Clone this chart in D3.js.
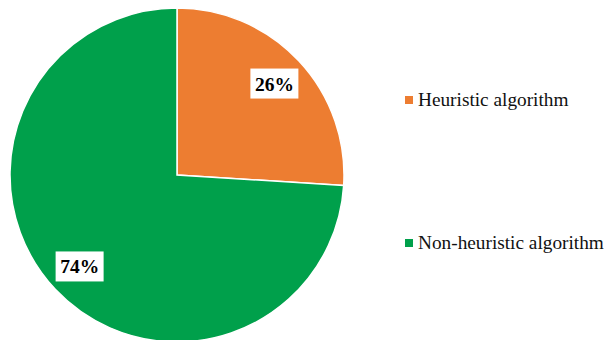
<!DOCTYPE html>
<html><head><meta charset="utf-8">
<script src="https://cdn.jsdelivr.net/npm/d3@7"></script>
<style>body{margin:0;background:#fff}svg{display:block}text{font-family:"Liberation Serif","Times New Roman",Times,serif}</style>
</head><body>
<svg id="c" width="614" height="340"></svg>
<script>
const categories = ["Heuristic algorithm", "Non-heuristic algorithm"];
const values = [26, 74];
const labels = ["26%", "74%"];
const colors = ["#ED7D31", "#00A04B"];

const svg = d3.select("#c");
const cx = 177, cy = 175, R = 167;
const g = svg.append("g").attr("transform", `translate(${cx},${cy})`);
const pie = d3.pie().sort(null).value(d => d)(values);
const arc = d3.arc().innerRadius(0).outerRadius(R);
g.selectAll("path").data(pie).enter().append("path")
  .attr("d", arc).attr("fill", (d,i) => colors[i])
  .attr("stroke", "#fff").attr("stroke-width", 1.5);

const lab = d3.arc().innerRadius(R*0.8).outerRadius(R*0.8);
pie.forEach((d,i) => {
  const [x,y] = lab.centroid(d);
  const w = 48, h = 30;
  g.append("rect").attr("x", x-w/2).attr("y", y-h/2).attr("width", w).attr("height", h).attr("fill", "#fff");
  g.append("text").attr("x", x).attr("y", y+7).attr("text-anchor","middle")
   .attr("font-weight","bold").attr("font-size", 19.5)
   .attr("fill","#000").text(labels[i]);
});

const ly = [100, 243];
categories.forEach((c,i) => {
  svg.append("rect").attr("x", 405).attr("y", ly[i]-4).attr("width", 8).attr("height", 8).attr("fill", colors[i]);
  svg.append("text").attr("x", 418).attr("y", ly[i]+5.5)
    .attr("font-size", 19.3).attr("fill","#111").text(c);
});
</script>
</body></html>
